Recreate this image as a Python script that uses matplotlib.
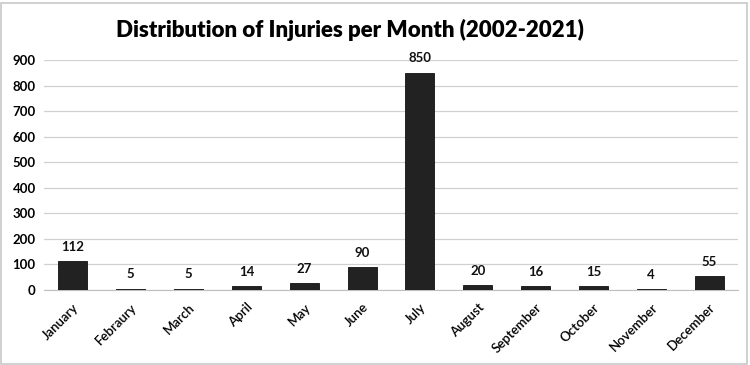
import matplotlib
matplotlib.use("Agg")
import matplotlib.pyplot as plt
from matplotlib.patches import Rectangle

months = ["January", "Febraury", "March", "April", "May", "June", "July",
          "August", "September", "October", "November", "December"]
injuries = [112, 5, 5, 14, 27, 90, 850, 20, 16, 15, 4, 55]
yticks = [0, 100, 200, 300, 400, 500, 600, 700, 800, 900]

plt.rcParams['font.family'] = ['Lato', 'DejaVu Sans']

fig = plt.figure(figsize=(7.5, 3.65), dpi=100)
ax = fig.add_axes([44/750, 1 - 290/365, 694/750, 230/365])

x = list(range(len(months)))
bars = ax.bar(x, injuries, width=0.5, color="#222222", edgecolor="#111111", linewidth=0.6, zorder=3)
for xi, v in zip(x, injuries):
    ax.annotate(str(v), (xi, v), xytext=(0, 6), textcoords="offset points",
                ha="center", va="bottom", fontsize=9.5, fontweight="bold", color="#111111")

ax.set_xlim(-0.5, len(months) - 0.5)
ax.set_ylim(0, 900)
ax.set_yticks(yticks)
ax.set_yticklabels([str(t) for t in yticks], fontsize=9.5, fontweight="bold")
ax.set_xticks(x)
ax.set_xticklabels(months, rotation=45, ha="right", rotation_mode="anchor", fontsize=9.5,
                   fontweight="semibold")
ax.tick_params(axis="both", length=0, pad=6)
ax.tick_params(axis="x", pad=8)
ax.grid(axis="y", color="#d0d0d0", linewidth=0.9, zorder=0)
for s in ["top", "right", "left"]:
    ax.spines[s].set_visible(False)
ax.spines["bottom"].set_color("#bfbfbf")

fig.text(350/750, 1 - 30/365, "Distribution of Injuries per Month (2002-2021)",
         ha="center", va="center", fontsize=16, fontweight="heavy", color="#000000")

fig.patches.append(Rectangle((1/750, 1/365), 746/750, 361/365, transform=fig.transFigure,
                             fill=False, edgecolor="#c8c8c8", linewidth=1.2))

fig.savefig("out.png", dpi=100)
